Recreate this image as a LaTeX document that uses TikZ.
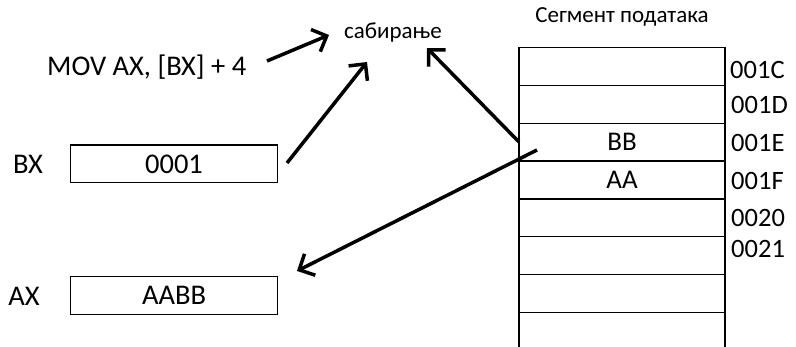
\documentclass[tikz,border=0pt]{standalone}
\usepackage{fontspec}
\setmainfont{Carlito}
\usetikzlibrary{arrows.meta}
\begin{document}
\begin{tikzpicture}[x=1pt,y=-1pt,
  cell/.style={draw,line width=1.4pt,minimum width=206pt,minimum height=37.8pt,inner sep=0pt,font=\fontsize{27}{30}\selectfont},
  reg/.style={draw,line width=1.4pt,minimum width=207pt,minimum height=37.6pt,inner sep=0pt,font=\fontsize{28.5}{30}\selectfont},
  lbl/.style={inner sep=0pt,font=\fontsize{28.5}{30}\selectfont},
  addr/.style={inner sep=0pt,anchor=west,font=\fontsize{26.5}{28}\selectfont},
  arr/.style={line width=3.5pt,-{Straight Barb[length=12pt,width=24pt]}}]
\clip (0,0) rectangle (796,347);
\fill[white] (0,0) rectangle (796,347);
% texts
\node[lbl,anchor=west] (mov) at (47,67) {MOV AX, [BX] + 4};
\node[inner sep=0pt,anchor=west,font=\fontsize{23}{25}\selectfont] (sab) at (344,33) {сабирање};
\node[inner sep=0pt,font=\fontsize{23}{25}\selectfont] (seg) at (622,17) {Сегмент података};
% registers
\node[lbl] (bxl) at (28,164) {BX};
\node[reg] (bx) at (174,164) {0001};
\node[lbl] (axl) at (24,296) {AX};
\node[reg] (ax) at (174,295.5) {AABB};
% memory
\node[cell] (c1) at (622,66.6) {};
\node[cell] (c2) at (622,104.4) {};
\node[cell] (c3) at (622,142.2) {BB};
\node[cell] (c4) at (622,180) {AA};
\node[cell] (c5) at (622,217.8) {};
\node[cell] (c6) at (622,255.6) {};
\node[cell] (c7) at (622,293.4) {};
\node[cell] (c8) at (622,331.2) {};
\node[addr] (a1) at (730,70) {001C};
\node[addr] (a2) at (731,105) {001D};
\node[addr] (a3) at (731,143) {001E};
\node[addr] (a4) at (731,181) {001F};
\node[addr] (a5) at (731,218) {0020};
\node[addr] (a6) at (731,249) {0021};
% arrow end points
\coordinate (s1) at (267,61);
\coordinate (t1) at (329,35);
\coordinate (s2) at (287,163);
\coordinate (t2) at (367,62);
\coordinate (s3) at (519,142);
\coordinate (t3) at (427,48);
\coordinate (s4) at (537,150);
\coordinate (t4) at (297,271);
\draw[arr] (s1) -- (t1);
\draw[arr] (s2) -- (t2);
\draw[arr] (s3) -- (t3);
\draw[arr] (s4) -- (t4);
\end{tikzpicture}
\end{document}
